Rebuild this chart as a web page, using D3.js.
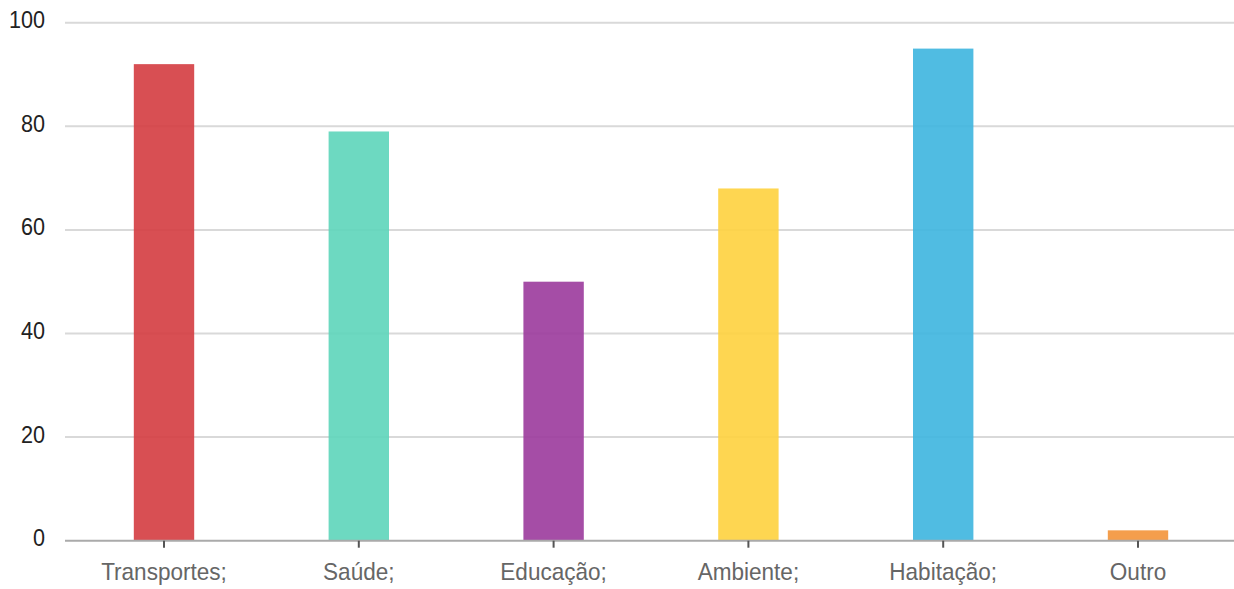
<!DOCTYPE html>
<html><head><meta charset="utf-8">
<script src="https://cdn.jsdelivr.net/npm/d3@7"></script>
<style>body{margin:0;background:#fff;}svg{display:block;font-family:"Liberation Sans",Arial,sans-serif;}</style>
</head><body>
<svg id="c" width="1234" height="589"></svg>
<script>
const categories = ["Transportes;", "Saúde;", "Educação;", "Ambiente;", "Habitação;", "Outro"];
const values = [92, 79, 50, 68, 95, 2];
const colors = ["#d43c40", "#5dd5ba", "#9b3a9c", "#fed23e", "#3db5df", "#f39438"];
const yTicks = [0, 20, 40, 60, 80, 100];

(function () {
const svg = d3.select("#c");
const mLeft = 65, mRight = 1234, mTop = 22.7, mBottom = 540.7;
const x = d3.scaleBand().domain(categories).range([66.6, 1235.4]).padding(0);
const y = d3.scaleLinear().domain([0, 100]).range([mBottom, mTop]);
const bw = x.bandwidth() * 0.31;

// gridlines
svg.append("g").selectAll("line").data(yTicks.filter(d => d > 0)).join("line")
  .attr("x1", mLeft).attr("x2", mRight)
  .attr("y1", d => y(d)).attr("y2", d => y(d))
  .attr("stroke", "#d9d9d9").attr("stroke-width", 2);

// bars
svg.append("g").selectAll("rect").data(values).join("rect")
  .attr("x", (d, i) => x(categories[i]) + x.bandwidth() / 2 - bw / 2)
  .attr("width", bw)
  .attr("y", d => y(d))
  .attr("height", d => y(0) - y(d))
  .attr("fill", (d, i) => colors[i])
  .attr("fill-opacity", 0.9);

// zero axis line
svg.append("line").attr("x1", mLeft).attr("x2", mRight)
  .attr("y1", y(0)).attr("y2", y(0))
  .attr("stroke", "#aaaaaa").attr("stroke-width", 2);

// y axis labels
const yAxis = d3.axisLeft(y).tickValues(yTicks).tickSize(0).tickPadding(20);
const gy = svg.append("g").attr("transform", `translate(${mLeft},0)`).call(yAxis);
gy.select(".domain").remove();
gy.selectAll("text")
  .attr("font-size", 24).attr("fill", "#222").attr("font-family", "Liberation Sans, Arial, sans-serif")
  .attr("x", -20 / 0.9).attr("dy", "5").attr("transform", "scale(0.9,1)");

// x axis
const xAxis = d3.axisBottom(x).tickSize(7).tickPadding(11);
const gx = svg.append("g").attr("transform", `translate(0,${mBottom})`).call(xAxis);
gx.select(".domain").remove();
gx.selectAll(".tick line").attr("stroke", "#555").attr("stroke-width", 2);
gx.selectAll("text")
  .attr("font-size", 24).attr("fill", "#666").attr("font-family", "Liberation Sans, Arial, sans-serif")
  .attr("y", 39.3).attr("dy", "0").attr("transform", "scale(0.94,1)");
})();
</script>
</body></html>
